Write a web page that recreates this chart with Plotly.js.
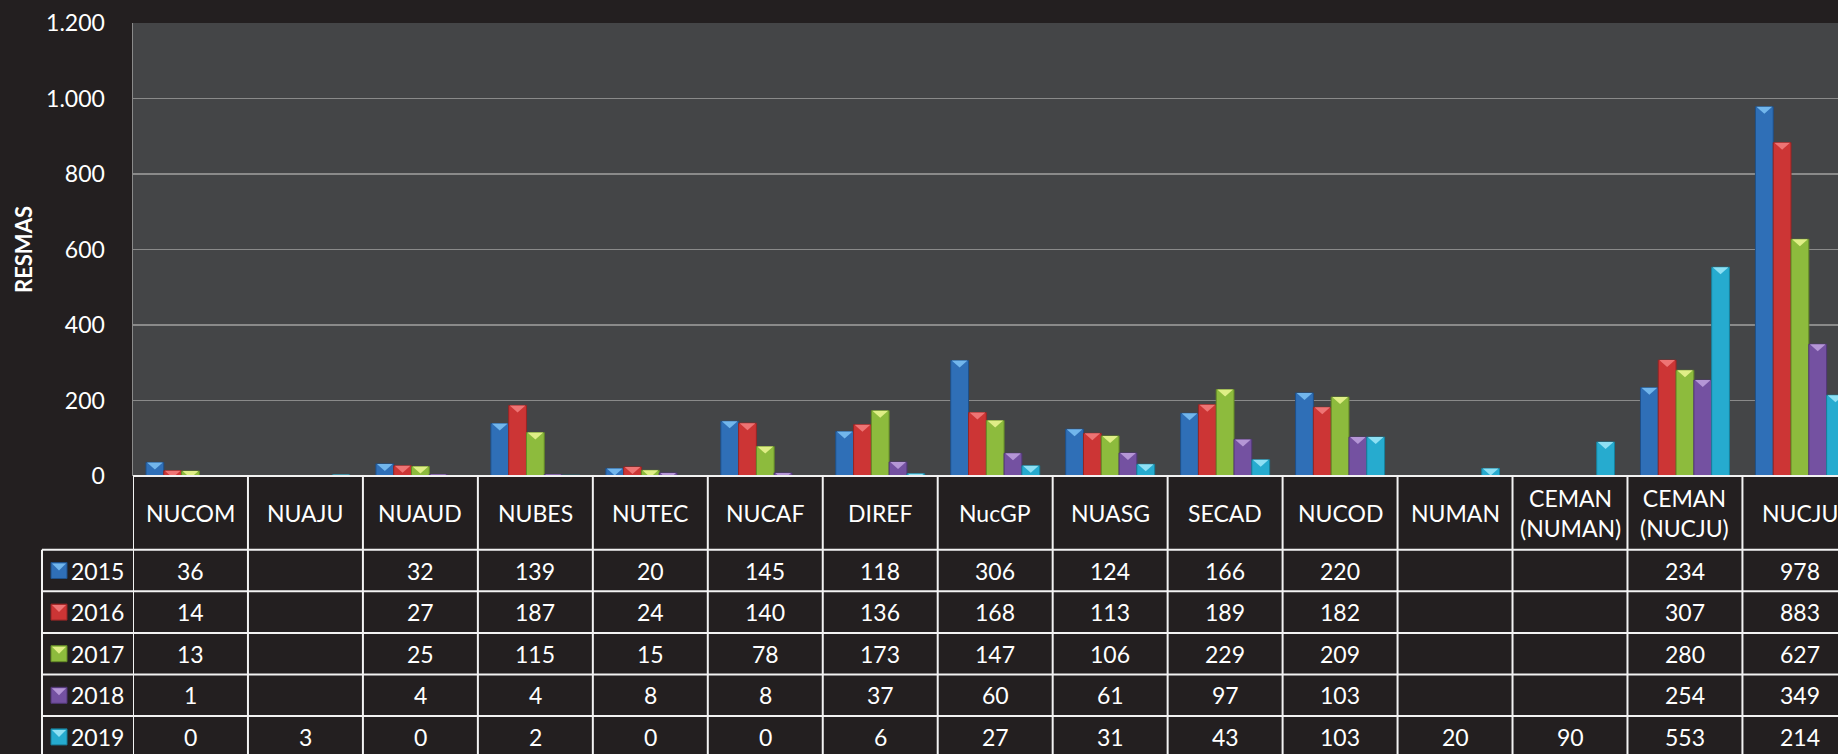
<!DOCTYPE html>
<html>
<head>
<meta charset="utf-8">
<script src="https://cdn.plot.ly/plotly-3.0.1.min.js"></script>
<style>
html,body{margin:0;padding:0;background:#231f20;}
#chart{width:1838px;height:754px;}
</style>
</head>
<body>
<div id="chart"></div>
<script>
// ---------------- DATA ----------------
const categories = ['NUCOM','NUAJU','NUAUD','NUBES','NUTEC','NUCAF','DIREF','NucGP','NUASG','SECAD','NUCOD','NUMAN','CEMAN (NUMAN)','CEMAN (NUCJU)','NUCJU'];
const years = ['2015','2016','2017','2018','2019'];
const v2015 = [36, null, 32, 139, 20, 145, 118, 306, 124, 166, 220, null, null, 234, 978];
const v2016 = [14, null, 27, 187, 24, 140, 136, 168, 113, 189, 182, null, null, 307, 883];
const v2017 = [13, null, 25, 115, 15, 78, 173, 147, 106, 229, 209, null, null, 280, 627];
const v2018 = [1, null, 4, 4, 8, 8, 37, 60, 61, 97, 103, null, null, 254, 349];
const v2019 = [0, 3, 0, 2, 0, 0, 6, 27, 31, 43, 103, 20, 90, 553, 214];
const yTicks = [0, 200, 400, 600, 800, 1000, 1200];
const yTitle = 'RESMAS';

// ---------------- STYLE ----------------
const seriesValues = [v2015, v2016, v2017, v2018, v2019];
const fillColors  = ['#2f6fb7', '#cc3535', '#8dbb3d', '#7451a1', '#26abcf'];
const lineColors  = ['#1f5088', '#962525', '#648a27', '#523777', '#17809c'];
const topColors   = ['#72b6ec', '#ee7474', '#dfee86', '#b596d6', '#8ee0f4'];

const W = 1838, H = 754;
const mL = 133, mR = 0, mT = 23, mB = 278;
const plotW = W - mL - mR, plotH = H - mT - mB;
const colW = 114.96;                       // px per category
const xEnd = -0.5 + plotW / colW;
const bargap = 0.226;
const FONT = 'Lato, "Open Sans", sans-serif';
const FS = 23;
const LINE = '#f2f2f2';

const px2x = p => (p - mL) / plotW;             // paper x from pixel
const px2y = p => (H - mB - p) / plotH;         // paper y from pixel

// table geometry (pixels)
const tableTop = H - mB;          // zero line
const headerBottom = 549.7;
const rowH = 41.6;
const legendLeft = 42;

// ---------------- TRACES ----------------
const traces = years.map((yr, k) => ({
  type: 'bar',
  name: yr,
  x: categories,
  y: seriesValues[k],
  marker: {color: fillColors[k], line: {color: lineColors[k], width: 1}},
  hoverinfo: 'x+y+name'
}));

// ---------------- SHAPES & ANNOTATIONS ----------------
const shapes = [];
const annotations = [];

// bevel triangles on top of bars
const barW = colW * (1 - bargap) / years.length;
seriesValues.forEach((vals, k) => {
  const dx = (k - (years.length - 1) / 2) * barW;
  vals.forEach((v, i) => {
    if (v === null || v <= 0) return;
    const hw = barW / 2 - 1;
    shapes.push({
      type: 'path', xref: 'x', yref: 'y',
      xsizemode: 'pixel', ysizemode: 'pixel',
      xanchor: i, yanchor: v,
      path: `M${(dx - hw).toFixed(2)},0 L${(dx + hw).toFixed(2)},0 L${dx.toFixed(2)},-7 Z`,
      fillcolor: topColors[k], line: {width: 0}, layer: 'above'
    });
  });
});

// horizontal table lines
shapes.push({type: 'line', xref: 'paper', yref: 'paper', x0: 0, x1: 1.02, y0: px2y(tableTop), y1: px2y(tableTop), line: {color: LINE, width: 2}});
for (let r = 0; r <= years.length; r++) {
  const yy = px2y(headerBottom + r * rowH);
  shapes.push({type: 'line', xref: 'paper', yref: 'paper', x0: px2x(legendLeft), x1: 1.02, y0: yy, y1: yy, line: {color: LINE, width: 2}});
}
// vertical table lines at category boundaries
for (let i = 0; i <= categories.length; i++) {
  shapes.push({type: 'line', xref: 'x', yref: 'paper', x0: i - 0.5, x1: i - 0.5, y0: px2y(tableTop), y1: -1, line: {color: LINE, width: 2}});
}
// legend column left edge
shapes.push({type: 'line', xref: 'paper', yref: 'paper', x0: px2x(legendLeft), x1: px2x(legendLeft), y0: px2y(headerBottom), y1: -1, line: {color: LINE, width: 2}});

// header labels
categories.forEach((c, i) => {
  annotations.push({
    xref: 'x', yref: 'paper', x: i, y: px2y((tableTop + headerBottom) / 2),
    text: c.replace(' (', '<br>('), showarrow: false,
    xanchor: 'center', yanchor: 'middle',
    font: {family: FONT, size: FS, color: '#ffffff'}
  });
});

// legend rows + values
years.forEach((yr, k) => {
  const cy = headerBottom + (k + 0.5) * rowH;
  shapes.push({type: 'rect', xref: 'paper', yref: 'paper',
    x0: px2x(51), x1: px2x(67), y0: px2y(cy + 8), y1: px2y(cy - 8),
    fillcolor: fillColors[k], line: {color: lineColors[k], width: 1}});
  shapes.push({type: 'path', xref: 'paper', yref: 'paper',
    path: `M${px2x(52)},${px2y(cy - 7)} L${px2x(66)},${px2y(cy - 7)} L${px2x(59)},${px2y(cy)} Z`,
    fillcolor: topColors[k], line: {width: 0}});
  annotations.push({
    xref: 'paper', yref: 'paper', x: px2x(126), y: px2y(cy),
    text: yr, showarrow: false, xanchor: 'right', yanchor: 'middle',
    font: {family: FONT, size: FS, color: '#ffffff'}
  });
  seriesValues[k].forEach((v, i) => {
    if (v === null) return;
    annotations.push({
      xref: 'x', yref: 'paper', x: i, y: px2y(cy),
      text: String(v), showarrow: false, xanchor: 'center', yanchor: 'middle',
      font: {family: FONT, size: FS, color: '#ffffff'}
    });
  });
});

// ---------------- LAYOUT ----------------
const layout = {
  width: W, height: H,
  margin: {l: mL, r: mR, t: mT, b: mB, pad: 0},
  paper_bgcolor: '#231f20',
  plot_bgcolor: '#444547',
  separators: ',.',
  barmode: 'group',
  bargap: bargap,
  bargroupgap: 0,
  showlegend: false,
  font: {family: FONT, size: FS, color: '#ffffff'},
  xaxis: {
    type: 'category', range: [-0.5, xEnd], showticklabels: false,
    showgrid: false, zeroline: false, showline: false, ticks: '', fixedrange: true
  },
  yaxis: {
    range: [0, 1200], tickvals: yTicks, tickformat: ',d',
    showgrid: true, gridcolor: '#8a8a8a', gridwidth: 1.5,
    zeroline: false, showline: true, linecolor: '#8a8a8a', linewidth: 1.5,
    ticks: 'outside', ticklen: 22, tickcolor: 'rgba(0,0,0,0)',
    tickfont: {family: FONT, size: FS, color: '#ffffff'},
    title: {text: yTitle, standoff: 7, font: {family: FONT, size: 22, color: '#ffffff', weight: 'bold'}},
    fixedrange: true
  },
  shapes: shapes,
  annotations: annotations
};

Plotly.newPlot('chart', traces, layout, {displayModeBar: false, staticPlot: true});
</script>
</body>
</html>
